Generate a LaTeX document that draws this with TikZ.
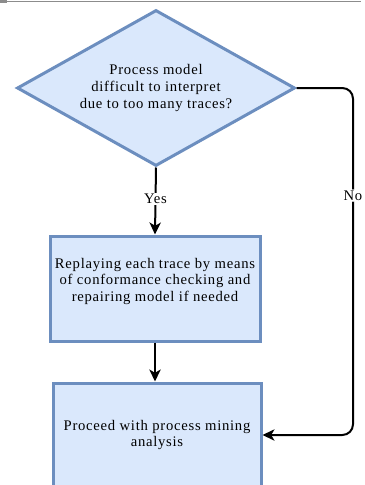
\documentclass[tikz,border=0pt]{standalone}
\usepackage{fontspec}
\setmainfont{Liberation Serif}[LetterSpace=5]
\usetikzlibrary{shapes.geometric,arrows.meta}
\definecolor{boxfill}{HTML}{DAE8FC}
\definecolor{boxline}{HTML}{6C8EBF}
\begin{document}
\begin{tikzpicture}[x=0.75pt,y=-0.75pt,
  every node/.style={font=\fontsize{11pt}{12.5pt}\selectfont},
  decision/.style={diamond,aspect=1.78,draw=boxline,fill=boxfill,line width=2.25pt,
    minimum width=208.5pt,minimum height=117pt,inner sep=0pt,align=center},
  stepbox/.style={rectangle,draw=boxline,fill=boxfill,line width=2.25pt,
    inner sep=0pt,align=center},
  conn/.style={draw=black,line width=1.5pt,
    -{Stealth[length=9pt,width=8.5pt,inset=2.5pt]}},
  edgelabel/.style={fill=white,inner sep=1pt}]
  \useasboundingbox (0,0) rectangle (364,485);
  \clip (0,0) rectangle (364,485);

  % thin rule along the top edge
  \draw[draw=gray!90,line width=1.2pt] (0,1.5) -- (361,1.5);
  \fill[gray!90] (0,0) rectangle (7,3);

  % decision
  \node[decision] (d) at (156,88)
    {Process model\\difficult to interpret\\due to too many traces?};

  % replay step
  \node[stepbox,minimum width=157.5pt,minimum height=78.75pt] (b1) at (155,288.5) {};
  \node[align=center] at ([yshift=5.5pt]b1.center)
    {Replaying each trace by means\\of conformance checking and\\repairing model if needed};

  % final step
  \node[stepbox,minimum width=156pt,minimum height=78pt] (b2) at (157,435)
    {Proceed with process mining\\analysis};

  % connectors
  \draw[conn] (d.south) -- node[edgelabel,pos=0.47] {Yes} (b1.north);
  \draw[conn] (b1.south) -- (b1.south |- b2.north);
  \coordinate (turn) at (353,88);
  \draw[conn,rounded corners=8pt] (d.east) -- (turn) |- node[edgelabel,pos=0.155] {No} (b2.east);
\end{tikzpicture}
\end{document}
